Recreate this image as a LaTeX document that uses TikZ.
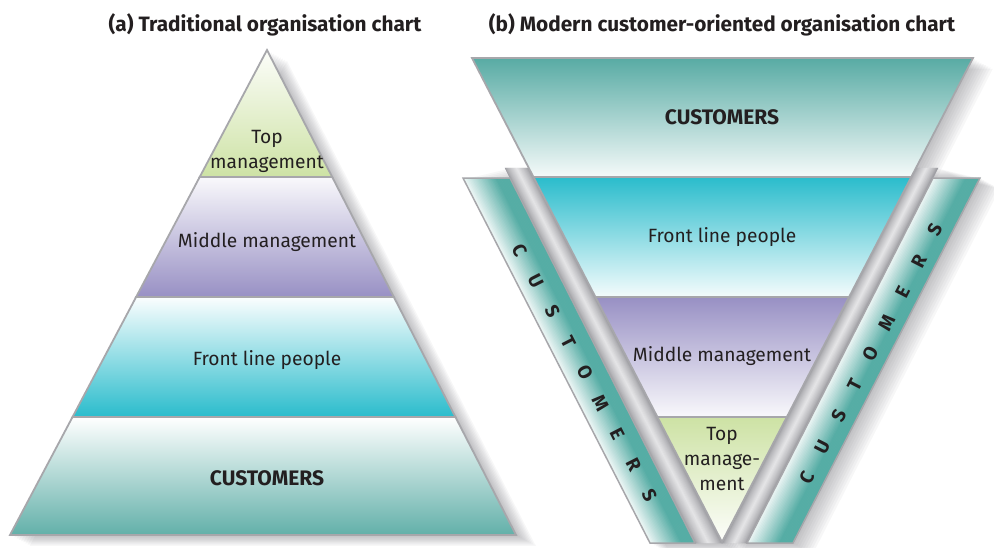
\documentclass[tikz,border=0pt]{standalone}
\usepackage{fontspec}
\setmainfont{Fira Sans}
\usetikzlibrary{calc}
\definecolor{edge}{HTML}{A7A7AB}
\definecolor{txt}{HTML}{231F20}
\definecolor{grn}{HTML}{CDE2A4}
\definecolor{lav}{HTML}{9890C4}
\definecolor{cyn}{HTML}{2ABCCC}
\definecolor{tealA}{HTML}{62B0A9}
\definecolor{tealB}{HTML}{58ABA4}
\definecolor{stripc}{HTML}{55ADA5}
\definecolor{bevdark}{HTML}{98989D}
\definecolor{bevlight}{HTML}{E6E6E8}
\definecolor{shad}{HTML}{50505A}
\tikzset{
  sect/.style={draw=edge, line width=1.8pt, line join=miter},
  lbl/.style={text=txt, font=\fontsize{19.2}{25}\selectfont, align=center, inner sep=0pt},
  blbl/.style={text=txt, font=\bfseries\fontsize{21}{24}\selectfont, inner sep=0pt},
  ttl/.style={text=txt, font=\bfseries\fontsize{20.8}{24}\selectfont, inner sep=0pt},
  ltr/.style={text=txt, font=\bfseries\fontsize{19}{22}\selectfont, inner sep=0pt},
  shd/.style={fill=shad, opacity=0.045},
}
\begin{document}
\begin{tikzpicture}[x=1pt,y=-1pt]
\useasboundingbox[fill=white] (0,0) rectangle (994,547);
% ---------- shadows ----------
\foreach \k in {1,...,9}{
  \begin{scope}[shift={(2.2*\k,1.2*\k)}]
    \fill[shd] (267,50) -- (516,535) -- (10,535) -- cycle;
    \fill[shd] (472,58) -- (973,58) -- (912,177) -- (533,177) -- cycle;
    \fill[shd] (917,168) -- (938,168) -- (980,178) -- (793,543) -- (722,543) -- cycle;
    \fill[shd] (463,178) -- (505,168) -- (529,168) -- (722,543) -- (650,543) -- cycle;
  \end{scope}
}
% ---------- (a) pyramid ----------
\coordinate (A) at (267,50);
\coordinate (BL) at (10,535);
\coordinate (BR) at (516,535);
\coordinate (aL1) at ($(A)!0.2619!(BL)$);
\coordinate (aR1) at ($(A)!0.2619!(BR)$);
\coordinate (aL2) at ($(A)!0.5093!(BL)$);
\coordinate (aR2) at ($(A)!0.5093!(BR)$);
\coordinate (aL3) at ($(A)!0.7567!(BL)$);
\coordinate (aR3) at ($(A)!0.7567!(BR)$);
\shadedraw[sect, top color=grn!6!white, bottom color=grn] (A) -- (aR1) -- (aL1) -- cycle;
\shadedraw[sect, top color=lav!6!white, bottom color=lav] (aL1) -- (aR1) -- (aR2) -- (aL2) -- cycle;
\shadedraw[sect, top color=cyn!2!white, bottom color=cyn] (aL2) -- (aR2) -- (aR3) -- (aL3) -- cycle;
\shadedraw[sect, top color=white, bottom color=tealA] (aL3) -- (aR3) -- (BR) -- (BL) -- cycle;
\node[ttl] (ta) at (265,25) {(a) Traditional organisation chart};
\node[lbl] (a1) at (267,151) {Top\\management};
\node[lbl] (a2) at (267,242) {Middle management};
\node[lbl] (a3) at (267,360) {Front line people};
\node[blbl] (a4) at (267,478) {CUSTOMERS};
% ---------- (b) inverted ----------
\coordinate (cTL) at (472,58);
\coordinate (cTR) at (973,58);
\coordinate (V) at (722,542);
\coordinate (bL0) at ($(cTL)!0.2273!(V)$);
\coordinate (bR0) at ($(cTR)!0.2273!(V)$);
\coordinate (bL1) at ($(cTL)!0.2459!(V)$);
\coordinate (bR1) at ($(cTR)!0.2459!(V)$);
\coordinate (bL2) at ($(cTL)!0.4938!(V)$);
\coordinate (bR2) at ($(cTR)!0.4938!(V)$);
\coordinate (bL3) at ($(cTL)!0.7417!(V)$);
\coordinate (bR3) at ($(cTR)!0.7417!(V)$);
% strips
\coordinate (LS1) at (463,178); \coordinate (LS2) at (510,178);
\coordinate (LS3) at (695,543); \coordinate (LS4) at (650,543);
\coordinate (RS1) at (933,178); \coordinate (RS2) at (980,178);
\coordinate (RS3) at (793,543); \coordinate (RS4) at (747,543);
\coordinate (LB1) at (505,168); \coordinate (LB4) at (695,543);
\coordinate (LB3) at (722.5,543);
\coordinate (RB2) at (938,168); \coordinate (RB3) at (747,543);
\coordinate (RB4) at (722.5,543);
\foreach \i in {0,...,29}{
  \pgfmathsetmacro\ta{\i/30}
  \pgfmathsetmacro\tb{(\i+1)/30}
  \pgfmathtruncatemacro\p{min(100,8+130*(\i+0.5)/30)}
  \pgfmathtruncatemacro\q{100*(1-abs(2*(\i+0.5)/30-1))^0.7}
  \fill[stripc!\p!white, draw=stripc!\p!white, line width=0.4pt]
    ($(LS1)!\ta!(LS2)$) -- ($(LS1)!\tb!(LS2)$) -- ($(LS4)!\tb!(LS3)$) -- ($(LS4)!\ta!(LS3)$) -- cycle;
  \fill[stripc!\p!white, draw=stripc!\p!white, line width=0.4pt]
    ($(RS1)!\ta!(RS2)$) -- ($(RS1)!\tb!(RS2)$) -- ($(RS4)!\tb!(RS3)$) -- ($(RS4)!\ta!(RS3)$) -- cycle;
  \fill[bevlight!\q!bevdark, draw=bevlight!\q!bevdark, line width=0.4pt]
    ($(LB1)!\ta!(bL0)$) -- ($(LB1)!\tb!(bL0)$) -- ($(LB4)!\tb!(LB3)$) -- ($(LB4)!\ta!(LB3)$) -- cycle;
  \fill[bevlight!\q!bevdark, draw=bevlight!\q!bevdark, line width=0.4pt]
    ($(bR0)!\ta!(RB2)$) -- ($(bR0)!\tb!(RB2)$) -- ($(RB4)!\tb!(RB3)$) -- ($(RB4)!\ta!(RB3)$) -- cycle;
}
\draw[edge, line width=1.5pt, line join=miter] (LS1) -- (LS2) -- (LS3) -- (LS4) -- cycle;
\draw[edge, line width=1.5pt, line join=miter] (RS1) -- (RS2) -- (RS3) -- (RS4) -- cycle;
% inner sections
\shadedraw[sect, top color=cyn, bottom color=cyn!5!white] (bL1) -- (bR1) -- (bR2) -- (bL2) -- cycle;
\shadedraw[sect, top color=lav, bottom color=lav!6!white] (bL2) -- (bR2) -- (bR3) -- (bL3) -- cycle;
\shadedraw[sect, top color=grn, bottom color=grn!4!white] (bL3) -- (bR3) -- (V) -- cycle;
\shadedraw[sect, top color=tealB, bottom color=tealB!6!white] (cTL) -- (cTR) -- (bR1) -- (bL1) -- cycle;
\node[ttl] (tb) at (722,25) {(b) Modern customer-oriented organisation chart};
\node[blbl] (b1) at (722,117) {CUSTOMERS};
\node[lbl] (b2) at (722,237) {Front line people};
\node[lbl] (b3) at (722,356) {Middle management};
\node[lbl] (b4) at (722,459) {Top\\manage-\\ment};
% strip letters
\foreach \c [count=\n from 0] in {C,U,S,T,O,M,E,R,S}{
  \node[ltr, rotate=-62.9] (l\n) at ($(520,250)!\n/8!(650,495)$) {\c};
  \node[ltr, rotate=62.9] (r\n) at ($(807,478)!\n/8!(935,230)$) {\c};
}
\end{tikzpicture}
\end{document}
